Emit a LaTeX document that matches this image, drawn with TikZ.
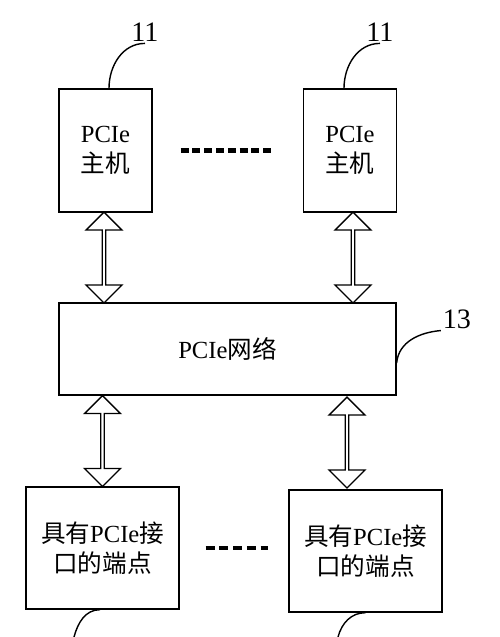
\documentclass[tikz,border=0pt]{standalone}
\usepackage{fontspec}
\setmainfont{Liberation Serif}
\newfontfamily\cjk{Noto Sans CJK SC}
\usetikzlibrary{shapes.arrows}

\tikzset{
  box/.style={draw, line width=0.8pt, inner sep=0pt, align=center,
    font=\fontsize{14}{17}\selectfont},
  hostbox/.style={box, minimum width=1.86cm, minimum height=2.46cm},
  endbox/.style={box, minimum width=3.06cm, minimum height=2.44cm},
  dblarrow/.style={draw, fill=white, line width=0.8pt, double arrow, rotate=90,
    inner sep=0pt, minimum width=0.72cm, minimum height=1.82cm,
    double arrow head extend=0.13cm},
  dotline/.style={line width=2.3pt},
  leader/.style={line width=0.8pt},
  num/.style={inner sep=1pt, font=\fontsize{16}{18}\selectfont}
}

\begin{document}
\begin{tikzpicture}[x=0.02cm, y=-0.02cm]
      \useasboundingbox (0,0) rectangle (500,637);
      % hosts
      \node[hostbox] (host1) at (105.5,150.5) {PCIe\\{\cjk 主机}};
      \node[hostbox] (host2) at (350,150.5) {PCIe\\{\cjk 主机}};
      \draw[dotline, dash pattern=on 0.16cm off 0.076cm, shorten <=0.56cm, shorten >=0.64cm] (host1) -- (host2);
      % network
      \node[box, minimum width=6.74cm, minimum height=1.84cm] (net) at (227.5,349) {PCIe{\cjk 网络}};
      % endpoints
      \node[endbox] (end1) at (102.5,548) {{\cjk 具有}PCIe{\cjk 接}\\{\cjk 口的端点}};
      \node[endbox] (end2) at (365.5,551) {{\cjk 具有}PCIe{\cjk 接}\\{\cjk 口的端点}};
      \draw[dotline, dash pattern=on 0.18cm off 0.095cm, shorten <=0.52cm, shorten >=0.4cm] (end1.east) -- (end1.east -| end2.west);
      % links
      \path ([xshift=-0.03cm]host1.south) -- ([xshift=-0.03cm]host1.south |- net.north) node[midway, dblarrow] (arr1) {};
      \path ([xshift=0.06cm]host2.south) -- ([xshift=0.06cm]host2.south |- net.north) node[midway, dblarrow] (arr2) {};
      \path (end1.north |- net.south) -- (end1.north) node[midway, dblarrow] (arr3) {};
      \path ([xshift=-0.37cm]end2.north |- net.south) -- ([xshift=-0.37cm]end2.north) node[midway, dblarrow] (arr4) {};
      % reference numbers
      \node[num] (lbl1) at (145,32) {11};
      \node[num] (lbl2) at (380,32) {11};
      \node[num] (lbl3) at (457,319) {13};
      \coordinate (tail1) at (74,637);
      \coordinate (tail2) at (338,637);
      \draw[leader] ([xshift=0.07cm]host1.north) to[out=90, in=180] (lbl1.south);
      \draw[leader] ([xshift=-0.12cm]host2.north) to[out=90, in=180] (lbl2.south);
      \draw[leader] ([yshift=-0.28cm]net.east) to[out=85, in=185] (lbl3.south west);
      \draw[leader] ([xshift=-0.05cm]end1.south) to[out=180, in=75] (tail1);
      \draw[leader] (end2.south) to[out=180, in=75] (tail2);
\end{tikzpicture}
\end{document}
